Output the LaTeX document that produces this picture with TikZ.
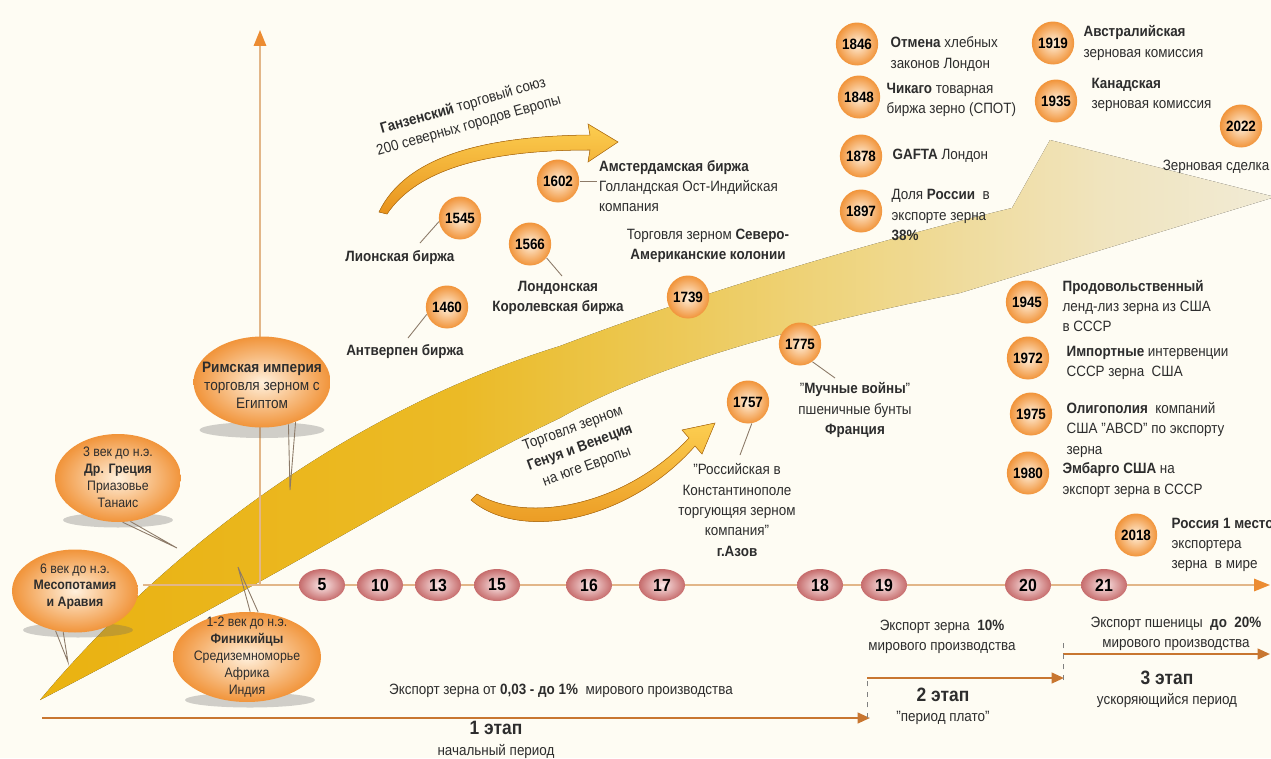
\documentclass[tikz,border=0pt]{standalone}
\usepackage{fontspec}
\setmainfont{Liberation Sans}[FakeStretch=0.9]
\usetikzlibrary{positioning, arrows.meta, shapes.geometric}

\definecolor{cream}{RGB}{254,252,243}
\definecolor{axistan}{RGB}{226,182,136}
\definecolor{tiporange}{RGB}{236,140,50}
\definecolor{stagebrown}{RGB}{200,118,48}
\definecolor{ballin}{RGB}{255,240,220}
\definecolor{ballout}{RGB}{241,148,58}
\definecolor{beadin}{RGB}{251,232,232}
\definecolor{beadout}{RGB}{198,108,108}
\definecolor{goldA}{RGB}{246,188,18}
\definecolor{goldA2}{RGB}{247,196,40}
\definecolor{goldB}{RGB}{250,214,100}
\definecolor{goldB2}{RGB}{252,228,150}
\definecolor{goldC}{RGB}{253,240,200}
\definecolor{goldD}{RGB}{254,247,225}
\definecolor{arrtop}{RGB}{252,206,80}
\definecolor{arrbot}{RGB}{232,146,28}
\definecolor{leadgray}{RGB}{140,122,104}
\definecolor{textgray}{RGB}{45,45,45}

\pgfdeclarehorizontalshading{bandfade}{100bp}{color(0bp)=(goldA); color(25bp)=(goldA);
  color(42bp)=(goldA2); color(52bp)=(goldB); color(60bp)=(goldB2); color(68bp)=(goldC);
  color(75bp)=(goldD); color(100bp)=(goldD)}

\newcommand{\tf}{\fontsize{8.5}{11.6}\selectfont}
\newcommand{\bubfont}{\fontsize{7.8}{9.6}\selectfont}
\newcommand{\rimfont}{\fontsize{8.6}{10.2}\selectfont}
\newcommand{\etap}{\fontsize{11}{13}\selectfont\bfseries}
\newcommand{\bubtext}[2][2pt]{\makebox[0pt]{\raisebox{-#1}[0pt][0pt]{\begin{tabular}{@{}c@{}}#2\end{tabular}}}}

\tikzset{
  yearball/.style={ellipse, minimum width=0.78cm, minimum height=0.86cm, inner sep=0pt,
    inner color=ballin, outer color=ballout, text=black, font=\fontsize{8.5}{10}\selectfont\bfseries},
  bead/.style={ellipse, minimum width=0.92cm, minimum height=0.64cm, inner sep=0pt,
    inner color=beadin, outer color=beadout, text=black, font=\fontsize{10}{12}\selectfont\bfseries},
  bubble/.style={ellipse, inner sep=0pt, inner color=ballin, outer color=ballout},
  note/.style={align=left, inner sep=1pt, anchor=west},
  midnote/.style={align=center, inner sep=1pt},
  leader/.style={draw=leadgray, line width=0.5pt},
  tail/.style={draw=leadgray, line width=0.5pt},
  stage/.style={draw=stagebrown, line width=1.3pt, -{Triangle[length=7pt,width=6pt]}},
  stagecut/.style={draw=gray, line width=0.4pt, dashed},
  bigarrow/.style={top color=arrtop, bottom color=arrbot, draw=arrbot!80!black, line width=0.3pt},
  shade/.style={fill=black!60, opacity=0.3}
}

\begin{document}
\begin{tikzpicture}[x=0.02cm, y=-0.02cm, font=\tf, text=textgray]
  \fill[cream] (0,0) rectangle (1271,758);
  \useasboundingbox (0,0) rectangle (1271,758);

  % big growth arrow
  \fill[shading=bandfade, opacity=0.95]
    (40,700) .. controls (140,580) and (320,420) .. (560,346)
    .. controls (720,285) and (900,235) .. (1012,208)
    -- (1050,140) -- (1275,197) -- (960,293)
    .. controls (870,312) and (680,350) .. (560,418)
    .. controls (430,480) and (300,565) .. (40,700) -- cycle;

  % axes
  \coordinate (o) at (260,585);
  \coordinate (top) at (260,30);
  \coordinate (tl) at (143,585);
  \coordinate (tr) at (1270,585);
  \draw[axistan, line width=1pt, -{Triangle[length=9pt,width=7pt,color=tiporange]}] (o) -- (top);
  \draw[axistan, line width=1pt, -{Triangle[length=9pt,width=7pt,color=tiporange]}] (tl) -- (tr);

  % bubble shadows
  \fill[shade] (262,430) ellipse [x radius=1.25cm, y radius=0.16cm];
  \fill[shade] (118,520) ellipse [x radius=1.1cm, y radius=0.15cm];
  \fill[shade] (78,630) ellipse [x radius=1.1cm, y radius=0.15cm];
  \fill[shade] (250,700) ellipse [x radius=1.3cm, y radius=0.15cm];

  % bubbles
  \node[bubble, minimum width=2.74cm, minimum height=1.82cm, font=\rimfont] (rim) at (262,382)
    {\bubtext[5pt]{\textbf{Римская империя}\\торговля зерном с\\Египтом}};
  \node[bubble, minimum width=2.52cm, minimum height=1.76cm, font=\bubfont] (gre) at (118,478)
    {\bubtext[2.5pt]{3 век до н.э.\\\textbf{Др. Греция}\\Приазовье\\Танаис}};
  \node[bubble, minimum width=2.52cm, minimum height=1.66cm, font=\bubfont] (meso) at (75,591)
    {\bubtext[-0.5pt]{6 век до н.э.\\\textbf{Месопотамия}\\\textbf{и Аравия}}};
  \node[bubble, minimum width=2.96cm, minimum height=1.8cm, font=\bubfont] (phoen) at (247,657)
    {\bubtext[2pt]{1-2 век до н.э.\\\textbf{Финикийцы}\\Средиземноморье\\Африка\\Индия}};

  % bubble tails
  \coordinate (rimtip) at (290,490);
  \coordinate (gretip) at (177,548);
  \coordinate (mesotip) at (68,662);
  \coordinate (phoentip) at (238,567);
  \draw[tail] (rim.-58) -- (rimtip) -- (rim.-50);
  \draw[tail] (gre.-84) -- (gretip) -- (gre.-74);
  \draw[tail] (meso.-116) -- (mesotip) -- (meso.-106);
  \draw[tail] (phoen.86) -- (phoentip) -- (phoen.76);

  % centuries
  \foreach \c/\x in {5/322, 10/380, 13/438, 15/497, 16/589, 17/662, 18/820, 19/884, 20/1028, 21/1104}
    \node[bead] (c\c) at (\x,585) {\c};

  % curved trade arrows
  \fill[bigarrow] (379,212) .. controls (405,158) and (480,136) .. (590,135)
    -- (588,124) -- (618,142) -- (588,162) -- (590,150)
    .. controls (490,150) and (418,168) .. (387,214) -- cycle;
  \node[rotate=16, align=center] (hansa) at (466,116)
    {\textbf{Ганзенский} торговый союз\\200 северных городов Европы};

  \fill[bigarrow] (471,500) .. controls (520,542) and (628,522) .. (695,446)
    -- (702,454) -- (715,423) -- (682,430) -- (689,438)
    .. controls (625,506) and (528,524) .. (477,494) -- cycle;
  \node[rotate=20, align=center] (genoa) at (580,448)
    {Торговля зерном\\\textbf{Генуя и Венеция}\\на юге Европы};

  % 15-18 centuries
  \node[yearball] (y1545) at (460,218) {1545};
  \node[midnote] (l1545) at (400,258) {\textbf{Лионская биржа}};
  \coordinate (e1545) at (420,243);
  \draw[leader] (y1545.190) -- (e1545);

  \node[yearball] (y1460) at (447,307) {1460};
  \node[midnote] (l1460) at (405,352) {\textbf{Антверпен биржа}};
  \coordinate (e1460) at (408,338);
  \draw[leader] (y1460.200) -- (e1460);

  \node[yearball] (y1566) at (530,244) {1566};
  \node[midnote] (l1566) at (558,298) {\textbf{Лондонская}\\\textbf{Королевская биржа}};
  \coordinate (e1566) at (562,276);
  \draw[leader] (y1566.-40) -- (e1566);

  \node[yearball] (y1602) at (558,181) {1602};
  \node[note] (l1602) at (597,186) {\textbf{Амстердамская биржа}\\Голландская Ост-Индийская\\компания};
  \draw[leader] (y1602.east) -- (l1602.west |- y1602.east);

  \node[midnote] (amer) at (708,246) {Торговля зерном \textbf{Северо-}\\\textbf{Американские колонии}};
  \node[yearball] (y1739) at (688,297) {1739};

  \node[yearball] (y1775) at (800,344) {1775};
  \node[midnote] (l1775) at (855,410) {"\textbf{Мучные войны}"\\пшеничные бунты\\\textbf{Франция}};
  \coordinate (e1775) at (835,378);
  \draw[leader] (y1775.-55) -- (e1775);

  \node[yearball] (y1757) at (748,402) {1757};
  \node[midnote] (l1757) at (737,510) {"Российская в\\Константинополе\\торгующяя зерном\\компания"\\\textbf{г.Азов}};
  \coordinate (e1757) at (740,455);
  \draw[leader] (y1757.-80) -- (e1757);

  % 19 century
  \node[yearball] (y1846) at (857,44) {1846};
  \node[note, right=0.2cm of y1846, yshift=-0.2cm] (t1846) {\textbf{Отмена} хлебных\\законов Лондон};
  \node[yearball] (y1848) at (859,97) {1848};
  \node[note, right=0.08cm of y1848, yshift=-0.06cm] (t1848) {\textbf{Чикаго} товарная\\биржа зерно (СПОТ)};
  \node[yearball] (y1878) at (861,156) {1878};
  \node[note, right=0.16cm of y1878] (t1878) {\textbf{GAFTA} Лондон};
  \node[yearball] (y1897) at (861,211) {1897};
  \node[note, right=0.14cm of y1897, yshift=-0.08cm] (t1897) {Доля \textbf{России}\ \ в\\экспорте зерна\\\textbf{38\%}};

  % 20-21 century
  \node[yearball] (y1919) at (1053,43) {1919};
  \node[note, right=0.14cm of y1919] (t1919) {\textbf{Австралийская}\\зерновая комиссия};
  \node[yearball] (y1935) at (1056,101) {1935};
  \node[note, right=0.24cm of y1935, yshift=0.12cm] (t1935) {\textbf{Канадская}\\зерновая комиссия};
  \node[yearball] (y2022) at (1241,126) {2022};
  \node[midnote, below=0.2cm of y2022, xshift=-0.5cm] (t2022) {Зерновая сделка};

  \node[yearball] (y1945) at (1027,302) {1945};
  \node[note, right=0.24cm of y1945, yshift=-0.08cm] (t1945) {\textbf{Продовольственный}\\ленд-лиз зерна из США\\в СССР};
  \node[yearball] (y1972) at (1028,358) {1972};
  \node[note, right=0.3cm of y1972, yshift=-0.1cm] (t1972) {\textbf{Импортные} интервенции\\СССР зерна\ \ США};
  \node[yearball] (y1975) at (1031,414) {1975};
  \node[note, right=0.24cm of y1975, yshift=-0.32cm] (t1975) {\textbf{Олигополия}\ \ компаний\\США "ABCD" по экспорту\\зерна};
  \node[yearball] (y1980) at (1028,473) {1980};
  \node[note, right=0.22cm of y1980, yshift=-0.14cm] (t1980) {\textbf{Эмбарго США} на\\экспорт зерна в СССР};
  \node[yearball] (y2018) at (1136,535) {2018};
  \node[note, right=0.24cm of y2018, yshift=-0.2cm] (t2018) {\textbf{Россия 1 место}\\экспортера\\зерна\ \ в мире};

  % stages
  \coordinate (s1a) at (42,718);
  \coordinate (s1b) at (870,718);
  \coordinate (s2a) at (867,678);
  \coordinate (s2b) at (1064,678);
  \coordinate (s3a) at (1063,654);
  \coordinate (s3b) at (1270,654);
  \draw[stage] (s1a) -- (s1b);
  \draw[stage] (s2a) -- (s2b);
  \draw[stage] (s3a) -- (s3b);
  \draw[stagecut] (s1b -| s2a) -- (s2a);
  \draw[stagecut] (1063,680) -- (1063,640);

  \node[midnote] (e1) at (561,691) {Экспорт зерна от \textbf{0,03 - до 1\%}\ \ мирового производства};
  \node[midnote] (st1) at (496,740) {{\etap 1 этап}\\начальный период};
  \node[midnote] (e2) at (942,637) {Экспорт зерна\ \ \textbf{10\%}\\мирового производства};
  \node[midnote] (st2) at (943,706) {{\etap 2 этап}\\"период плато"};
  \node[midnote] (e3) at (1176,634) {Экспорт пшеницы\ \ \textbf{до\ \ 20\%}\\мирового производства};
  \node[midnote] (st3) at (1167,689) {{\etap 3 этап}\\ускоряющийся период};
\end{tikzpicture}
\end{document}
